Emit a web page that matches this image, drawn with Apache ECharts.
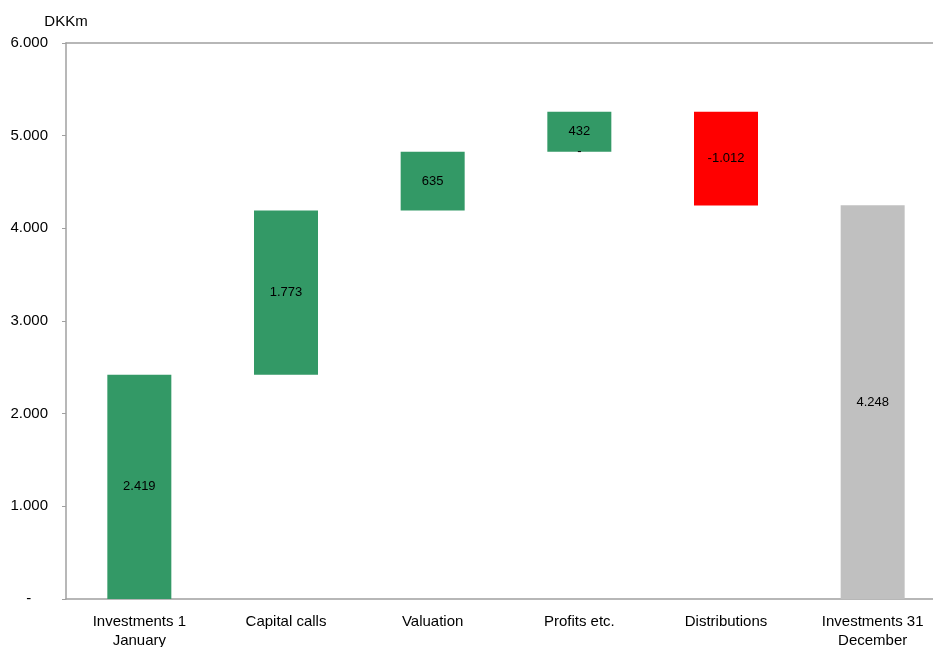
<!DOCTYPE html>
<html>
<head>
<meta charset="utf-8">
<script src="https://cdn.jsdelivr.net/npm/echarts@6/dist/echarts.min.js"></script>
<style>html,body{margin:0;padding:0;background:#fff}#c{width:933px;height:647px}</style>
</head>
<body>
<div id="c"></div>
<script>
const categories = ['Investments 1\nJanuary', 'Capital calls', 'Valuation', 'Profits etc.', 'Distributions', 'Investments 31\nDecember'];
const values = [2419, 1773, 635, 432, -1012, 4248];
const kinds = ['total', 'delta', 'delta', 'delta', 'delta', 'total'];
const zeroDownAt = [null, null, null, 0, null, null];
const yTicks = [0, 1000, 2000, 3000, 4000, 5000, 6000];

const GREEN = '#339966', RED = '#FF0000', GREY = '#C0C0C0';
function fmt(v) {
  if (v === 0) return '-';
  const s = Math.abs(v).toString().replace(/\B(?=(\d{3})+(?!\d))/g, '.');
  return (v < 0 ? '-' : '') + s;
}

const base = [], up = [], down = [];
let run = 0;
values.forEach((v, i) => {
  if (kinds[i] === 'total') {
    base.push(0);
    up.push({ value: v, itemStyle: { color: i === 0 ? GREEN : GREY }, orig: v });
    down.push(null);
    run = v;
  } else if (v >= 0) {
    base.push(run);
    down.push(zeroDownAt[i] === 0 ? { value: 0, orig: 0 } : null);
    up.push({ value: v, itemStyle: { color: GREEN }, orig: v });
    run += v;
  } else {
    run += v;
    base.push(run);
    down.push({ value: -v, itemStyle: { color: RED }, orig: v });
    up.push(null);
  }
});

const FONT = '"Liberation Sans", Arial, sans-serif';
const chart = echarts.init(document.getElementById('c'), null, { renderer: 'canvas' });
chart.setOption({
  animation: false,
  textStyle: { fontFamily: FONT },
  grid: { left: 66, top: 43, width: 880, height: 556, containLabel: false, outerBoundsMode: 'none' },
  xAxis: [{
    type: 'category', data: categories, position: 'bottom',
    axisLine: { lineStyle: { color: '#A0A0A0', width: 1.5 } },
    axisTick: { show: false },
    axisLabel: { color: '#000', fontSize: 15, fontFamily: FONT, lineHeight: 19, margin: 13, interval: 0 }
  }, {
    type: 'category', data: categories, position: 'top',
    axisLine: { show: true, lineStyle: { color: '#A0A0A0', width: 1.5 } },
    axisTick: { show: false }, axisLabel: { show: false }
  }],
  yAxis: {
    type: 'value', min: yTicks[0], max: yTicks[yTicks.length - 1], interval: 1000,
    name: 'DKKm', nameLocation: 'end', nameGap: 14,
    nameTextStyle: { color: '#000', fontSize: 15, fontFamily: FONT, align: 'center' },
    axisLine: { show: true, lineStyle: { color: '#A0A0A0', width: 1.5 } },
    axisTick: { show: true, length: 4, lineStyle: { color: '#A0A0A0' } },
    splitLine: { show: false },
    axisLabel: { color: '#000', fontSize: 15, fontFamily: FONT, margin: 18,
      formatter: v => v === 0 ? '-    ' : fmt(v) }
  },
  series: [{
    type: 'bar', stack: 'w', data: base, barWidth: 64,
    itemStyle: { color: 'transparent' }, silent: true
  }, {
    type: 'bar', stack: 'w', data: down, barWidth: 64,
    label: { show: true, position: 'inside', color: '#000', fontSize: 13, fontFamily: FONT,
      formatter: p => fmt(p.data.orig) }
  }, {
    type: 'bar', stack: 'w', data: up, barWidth: 64,
    label: { show: true, position: 'inside', color: '#000', fontSize: 13, fontFamily: FONT,
      formatter: p => fmt(p.data.orig) }
  }]
});
</script>
</body>
</html>
